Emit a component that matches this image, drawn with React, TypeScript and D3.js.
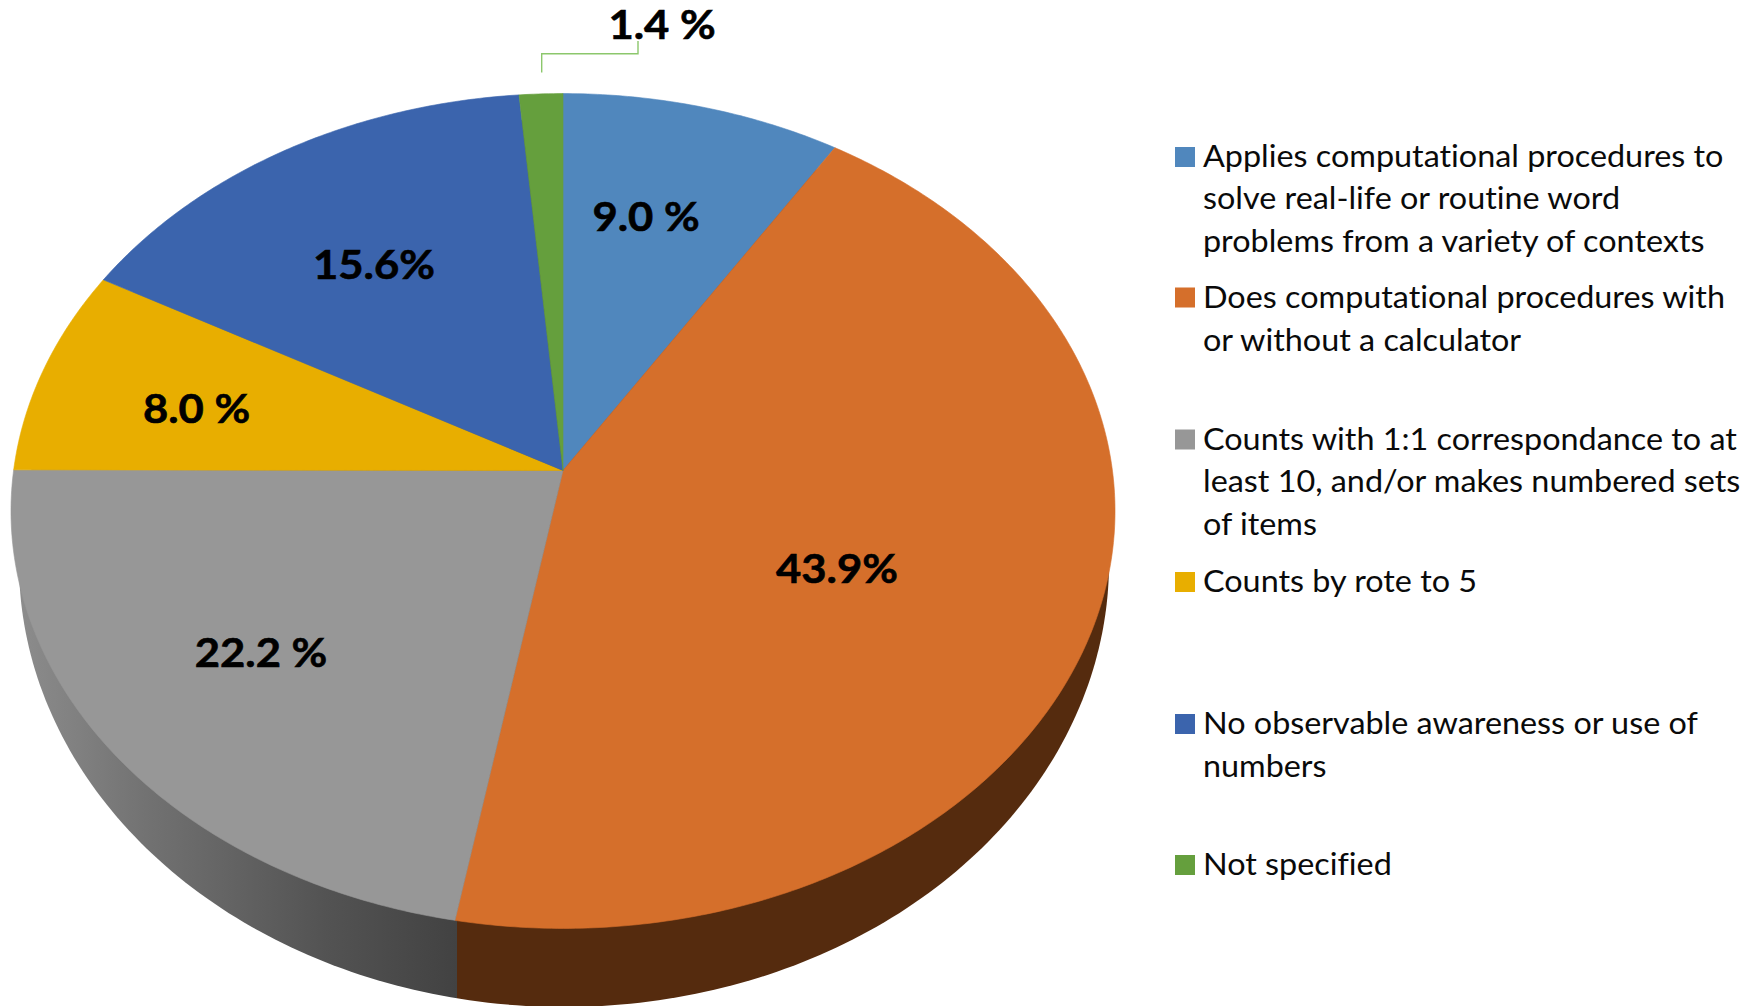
import React from "react";
import * as d3 from "d3";

const categories = [
  "Applies computational procedures to solve real-life or routine word problems from a variety of contexts",
  "Does computational procedures with or without a calculator",
  "Counts with 1:1 correspondance to at least 10, and/or makes numbered sets of items",
  "Counts by rote to 5",
  "No observable awareness or use of numbers",
  "Not specified",
];
const values = [9.0, 43.9, 22.2, 8.0, 15.6, 1.4];
const valueLabels = ["9.0 %", "43.9%", "22.2 %", "8.0 %", "15.6%", "1.4 %"];
const colors = ["#5087bd", "#d56f2b", "#979797", "#e8ae00", "#3b64ad", "#659f3d"];

const legendLines = [
  ["Applies computational procedures to", "solve real-life or routine word", "problems from a variety of contexts"],
  ["Does computational procedures with", "or without a calculator"],
  ["Counts with 1:1 correspondance to at", "least 10, and/or makes numbered sets", "of items"],
  ["Counts by rote to 5"],
  ["No observable awareness or use of", "numbers"],
  ["Not specified"],
];
const legendBaselines = [
  [167, 209, 251.5],
  [307.5, 350.5],
  [449.5, 492, 534.5],
  [592],
  [734, 776.5],
  [875],
];
const labelAnchors = [
  [646, 231],
  [837, 583],
  [261, 667],
  [196.5, 423],
  [374, 279],
  [662, 39],
];

const W = 1761;
const H = 1006;
// perspective disc: apex of the slices and projective constants
const APEX_X = 563;
const APEX_Y = 470.5;
const K = 0.097;
const BX = 549.4;
const BY = 413.5;
const project = (a: number): [number, number] => {
  const u = Math.sin(a);
  const v = -Math.cos(a);
  const w = 1 - K * v;
  return [APEX_X + (BX * u) / w, APEX_Y + (BY * v) / w];
};

const pie = d3.pie<number>().sort(null).startAngle(0).endAngle(2 * Math.PI);
const arcs = pie(values);
const line = d3.line();

const slicePath = (start: number, end: number) => {
  const n = Math.max(4, Math.ceil((end - start) / 0.01));
  const pts: [number, number][] = [[APEX_X, APEX_Y]];
  d3.range(n + 1).forEach((i) => pts.push(project(start + ((end - start) * i) / n)));
  return line(pts) + "Z";
};

// lower rim ellipse of the disc's thickness
const LOW = { cx: 564, cy: 563, rx: 545, ry: 444 };
const lowerPath = (() => {
  const pts: [number, number][] = d3.range(361).map((d) => {
    const a = (d * Math.PI) / 180;
    return [LOW.cx + LOW.rx * Math.cos(a), LOW.cy + LOW.ry * Math.sin(a)];
  });
  return line(pts) + "Z";
})();

const WALL_SPLIT = 457;
const FONT = "Lato, 'Open Sans', sans-serif";
const LEGEND_STRETCH = 1.078;
const LABEL_STRETCH = 1.09;

export default function App() {
  return (
    <svg
      width={W}
      height={H}
      viewBox={`0 0 ${W} ${H}`}
      style={{ position: "absolute", left: 0, top: 0, display: "block", background: "#fff" }}
    >
      <defs>
        <linearGradient id="grayWall" gradientUnits="userSpaceOnUse" x1={20} x2={WALL_SPLIT} y1={0} y2={0}>
          <stop offset="0" stopColor="#8c8c8c" />
          <stop offset="0.3" stopColor="#717171" />
          <stop offset="0.7" stopColor="#535353" />
          <stop offset="1" stopColor="#424242" />
        </linearGradient>
        <clipPath id="leftWall">
          <rect x={0} y={0} width={WALL_SPLIT} height={H} />
        </clipPath>
        <clipPath id="rightWall">
          <rect x={WALL_SPLIT} y={0} width={W - WALL_SPLIT} height={H} />
        </clipPath>
      </defs>

      <path d={lowerPath} fill="url(#grayWall)" clipPath="url(#leftWall)" />
      <path d={lowerPath} fill="#552b0e" clipPath="url(#rightWall)" />

      {arcs.map((a, i) => (
        <path
          key={i}
          d={slicePath(a.startAngle, a.endAngle)}
          fill={colors[i]}
          stroke={colors[i]}
          strokeWidth={0.6}
        />
      ))}

      <path
        d={line([[541.7, 72.5], [541.7, 53.7], [638, 53.7], [638, 41]]) ?? ""}
        fill="none"
        stroke="#8cc76c"
        strokeWidth={1.4}
      />

      {valueLabels.map((t, i) => (
        <text
          key={t}
          transform={`translate(${labelAnchors[i][0]},${labelAnchors[i][1]}) scale(${LABEL_STRETCH},1)`}
          textAnchor="middle"
          fontFamily={FONT}
          fontWeight={700}
          fontSize={40}
          fill="#000"
          stroke="#000"
          strokeWidth={0.6}
          style={{ fontVariantLigatures: "none" }}
        >
          {t}
        </text>
      ))}

      {categories.map((c, i) => (
        <g key={c}>
          <rect x={1175} y={legendBaselines[i][0] - 20} width={20} height={20} fill={colors[i]} />
          {legendLines[i].map((l, j) => (
            <text
              key={l}
              transform={`translate(1203,${legendBaselines[i][j]}) scale(${LEGEND_STRETCH},1)`}
              fontFamily={FONT}
              fontSize={30}
              fill="#0a0a0a"
              style={{ fontVariantLigatures: "none" }}
            >
              {l}
            </text>
          ))}
        </g>
      ))}
    </svg>
  );
}
